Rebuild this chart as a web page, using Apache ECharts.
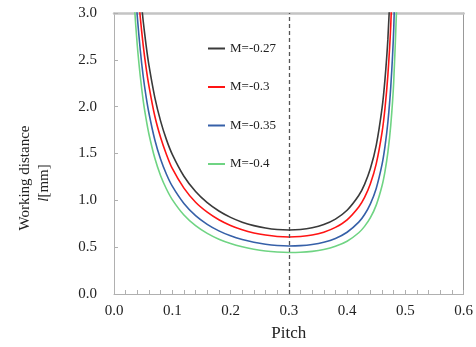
<!DOCTYPE html>
<html>
<head>
<meta charset="utf-8">
<script src="https://cdn.jsdelivr.net/npm/echarts@6/dist/echarts.min.js"></script>
<style>html,body{margin:0;padding:0;background:#fff}#c{width:476px;height:347px}</style>
</head>
<body>
<div id="c"></div>
<script>
const pitch = [0.03,0.035,0.04,0.045,0.05,0.055,0.06,0.07,0.08,0.09,0.10,0.12,0.14,0.16,0.18,0.20,0.22,0.24,0.26,0.28,0.30,0.32,0.34,0.36,0.38,0.40,0.42,0.43,0.44,0.45,0.46,0.465,0.47,0.475,0.48,0.485];
const m027 = [null,null,3.65,3.24,2.92,2.66,2.44,2.10,1.846,1.648,1.491,1.257,1.094,0.975,0.886,0.818,0.767,0.730,0.704,0.688,0.683,0.688,0.707,0.742,0.800,0.894,1.051,1.171,1.339,1.587,1.985,2.289,2.721,3.382,null,null];
const m030 = [null,null,3.33,2.96,2.66,2.42,2.22,1.90,1.67,1.49,1.34,1.13,0.98,0.874,0.793,0.732,0.686,0.652,0.629,0.614,0.609,0.614,0.629,0.660,0.711,0.792,0.929,1.032,1.177,1.389,1.725,1.980,2.337,2.875,3.773,null];
const m035 = [null,3.42,2.96,2.61,2.33,2.11,1.93,1.647,1.438,1.279,1.152,0.967,0.837,0.744,0.674,0.621,0.581,0.552,0.531,0.518,0.513,0.516,0.528,0.552,0.593,0.659,0.767,0.849,0.963,1.127,1.383,1.573,1.834,2.214,2.821,3.934];
const m040 = [3.68,3.08,2.65,2.33,2.07,1.872,1.706,1.451,1.263,1.121,1.008,0.843,0.729,0.647,0.585,0.539,0.504,0.478,0.459,0.448,0.443,0.445,0.455,0.475,0.509,0.563,0.654,0.722,0.815,0.949,1.156,1.307,1.511,1.805,2.259,3.053];
const seriesNames = ['M=-0.27','M=-0.3','M=-0.35','M=-0.4'];
const seriesValues = [m027, m030, m035, m040];
const seriesColors = ['#3a3a3a','#ff1414','#3660a8','#6fd483'];
const refPitch = 0.3;

const font = 'Liberation Serif';
const chart = echarts.init(document.getElementById('c'), null, {renderer:'canvas'});
const series = seriesNames.map((n,i)=>({
  name:n, type:'line', xAxisIndex:0, yAxisIndex:0,
  data: pitch.map((x,j)=>[x, seriesValues[i][j]]),
  showSymbol:false, smooth:0.25, clip:true,
  lineStyle:{color:seriesColors[i], width:1.6},
  itemStyle:{color:seriesColors[i]},
  z: 5-i
}));
series[0].markLine = {
  symbol:'none', silent:true, animation:false,
  label:{show:false},
  lineStyle:{color:'#555', type:[4,3], width:1.3},
  data:[{xAxis: refPitch}]
};
chart.setOption({
  animation:false,
  grid:{left:114, right:10, top:13, bottom:52},
  legend:{
    orient:'vertical', left:203, top:36.5,
    icon:'rect', itemWidth:17, itemHeight:2, itemGap:24.5,
    textStyle:{fontFamily:font, fontSize:13, color:'#222', lineHeight:14},
    data:seriesNames
  },
  xAxis:[{
    type:'value', min:0, max:0.6, interval:0.1,
    name:'Pitch', nameLocation:'middle', nameGap:31,
    nameTextStyle:{fontFamily:font, fontSize:17, color:'#222'},
    axisLine:{show:true, lineStyle:{color:'#b0b0b0', width:1}},
    axisTick:{show:true, inside:true, length:4, lineStyle:{color:'#b0b0b0'}},
    minorTick:{show:true, splitNumber:5, length:4, lineStyle:{color:'#b0b0b0'}},
    splitLine:{show:false},
    axisLabel:{fontFamily:font, fontSize:15, color:'#222', margin:10, formatter:v=>v.toFixed(1)}
  },{
    type:'value', min:0, max:0.6, position:'top',
    axisLine:{show:true, onZero:false, lineStyle:{color:'#c4c4c4', width:2.5}},
    axisTick:{show:false}, axisLabel:{show:false}, splitLine:{show:false}
  }],
  yAxis:[{
    type:'value', min:0, max:3, interval:0.5,
    axisLine:{show:true, lineStyle:{color:'#b0b0b0', width:1}},
    axisTick:{show:true, inside:true, length:4, lineStyle:{color:'#b0b0b0'}},
    splitLine:{show:false},
    axisLabel:{fontFamily:font, fontSize:15, color:'#222', margin:17, formatter:v=>v.toFixed(1)}
  },{
    type:'value', min:0, max:3, position:'right',
    axisLine:{show:true, onZero:false, lineStyle:{color:'#999', width:1}},
    axisTick:{show:false}, axisLabel:{show:false}, splitLine:{show:false}
  }],
  graphic:[
    {type:'text', x:25, y:178, rotation:Math.PI/2,
     style:{text:'Working distance', font:'15px "Liberation Serif"', fill:'#222', align:'center', verticalAlign:'middle'}},
    {type:'text', x:44, y:183, rotation:Math.PI/2,
     style:{text:'{i|l}{n|[mm]}', align:'center', verticalAlign:'middle',
       rich:{i:{fontFamily:font, fontSize:15, fontStyle:'italic', fill:'#222'}, n:{fontFamily:font, fontSize:15, fill:'#222'}}}}
  ],
  series: series
});
</script>
</body>
</html>
